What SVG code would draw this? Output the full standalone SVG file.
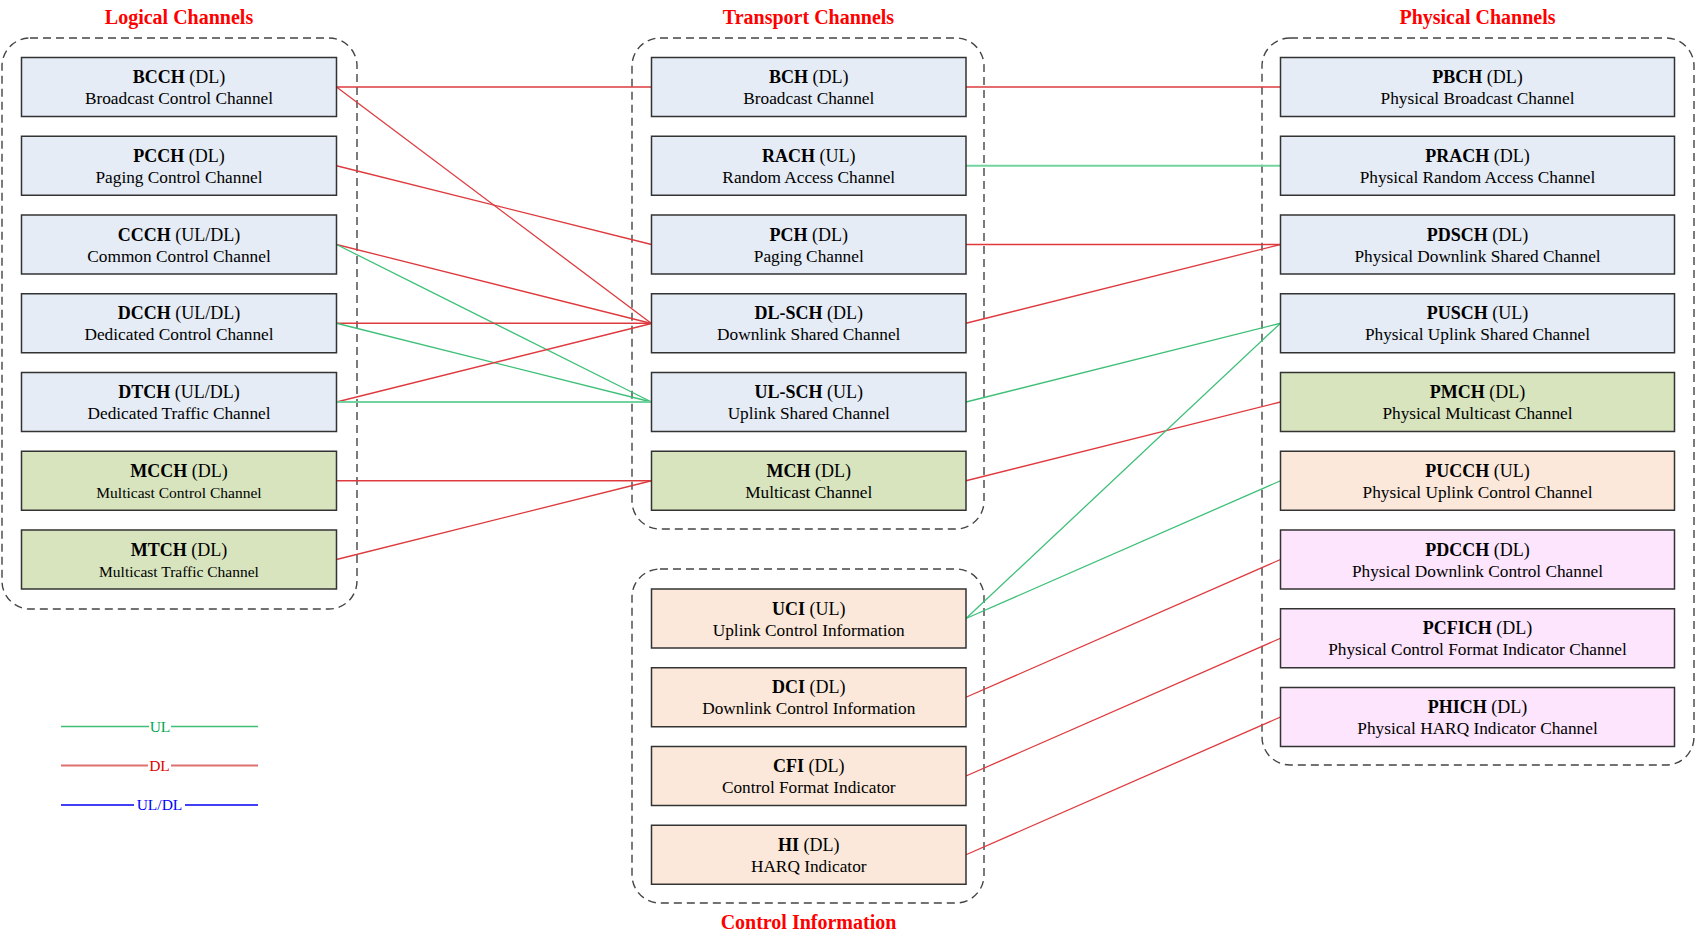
<svg xmlns="http://www.w3.org/2000/svg" width="1696" height="944" viewBox="0 0 1696 944">
<style>
text{font-family:"Liberation Serif","Times New Roman",serif;fill:#000;text-anchor:middle}
.hdr{font-size:20px;font-weight:bold;fill:#FF0000}
.t{font-size:18px}
.t tspan.b{font-weight:bold}
.s{font-size:17.3px}
.ss{font-size:15.5px}
.box{stroke:#333;stroke-width:1.5}
.blue{fill:#E5ECF6}
.green{fill:#D7E4BE}
.peach{fill:#FBE8DA}
.pink{fill:#FDE5FD}
.cont{fill:none;stroke:#444;stroke-width:1.4;stroke-dasharray:8 5}
.dl{stroke:#DE3A3E;stroke-width:1.3;fill:none}
.ul{stroke:#3DBF78;stroke-width:1.3;fill:none}
.ulw{stroke:#72D39E;stroke-width:2.2;fill:none}
.leg{font-size:15.5px}
</style>

<g id="containers">
<rect class="cont" x="2" y="38" width="355" height="571" rx="28"/>
<rect class="cont" x="632" y="38" width="352" height="491" rx="28"/>
<rect class="cont" x="632" y="569" width="352" height="334" rx="28"/>
<rect class="cont" x="1262" y="38" width="432" height="727" rx="28"/>
</g>

<g id="headers">
<text class="hdr" x="179" y="24">Logical Channels</text>
<text class="hdr" x="808.5" y="24">Transport Channels</text>
<text class="hdr" x="1477.5" y="24">Physical Channels</text>
<text class="hdr" x="808.5" y="929">Control Information</text>
</g>

<g id="connectors">
<line class="dl" x1="336.5" y1="87" x2="651.5" y2="87"/>
<line class="dl" x1="336.5" y1="87" x2="651.5" y2="323.5"/>
<line class="dl" x1="336.5" y1="165.75" x2="651.5" y2="244.5"/>
<line class="dl" x1="336.5" y1="244.5" x2="651.5" y2="323.5"/>
<line class="ul" x1="336.5" y1="244.5" x2="651.5" y2="402"/>
<line class="dl" x1="336.5" y1="323.25" x2="651.5" y2="323.25"/>
<line class="ul" x1="336.5" y1="323.25" x2="651.5" y2="402"/>
<line class="dl" x1="336.5" y1="402" x2="651.5" y2="323.5"/>
<line class="ulw" x1="336.5" y1="402" x2="651.5" y2="402"/>
<line class="dl" x1="336.5" y1="480.75" x2="651.5" y2="480.75"/>
<line class="dl" x1="336.5" y1="559.5" x2="651.5" y2="480.75"/>

<line class="dl" x1="966" y1="87" x2="1280.5" y2="87"/>
<line class="ulw" x1="966" y1="165.75" x2="1280.5" y2="165.75"/>
<line class="dl" x1="966" y1="244.5" x2="1280.5" y2="244.5"/>
<line class="dl" x1="966" y1="323.25" x2="1280.5" y2="244.5"/>
<line class="ul" x1="966" y1="402" x2="1280.5" y2="323.25"/>
<line class="dl" x1="966" y1="480.75" x2="1280.5" y2="402"/>
<line class="ul" x1="966" y1="618.5" x2="1280.5" y2="323.25"/>
<line class="ul" x1="966" y1="618.5" x2="1280.5" y2="480.75"/>
<line class="dl" x1="966" y1="697.25" x2="1280.5" y2="559.5"/>
<line class="dl" x1="966" y1="776" x2="1280.5" y2="638.25"/>
<line class="dl" x1="966" y1="854.75" x2="1280.5" y2="717"/>
</g>

<!-- Logical channels -->
<g id="BCCH"><rect class="box blue" x="21.5" y="57.5" width="315" height="59"/>
<text class="t" x="179" y="83"><tspan class="b">BCCH</tspan> (DL)</text>
<text class="s" x="179" y="104">Broadcast Control Channel</text></g>
<g id="PCCH"><rect class="box blue" x="21.5" y="136.25" width="315" height="59"/>
<text class="t" x="179" y="161.75"><tspan class="b">PCCH</tspan> (DL)</text>
<text class="s" x="179" y="182.75">Paging Control Channel</text></g>
<g id="CCCH"><rect class="box blue" x="21.5" y="215" width="315" height="59"/>
<text class="t" x="179" y="240.5"><tspan class="b">CCCH</tspan> (UL/DL)</text>
<text class="s" x="179" y="261.5">Common Control Channel</text></g>
<g id="DCCH"><rect class="box blue" x="21.5" y="293.75" width="315" height="59"/>
<text class="t" x="179" y="319.25"><tspan class="b">DCCH</tspan> (UL/DL)</text>
<text class="s" x="179" y="340.25">Dedicated Control Channel</text></g>
<g id="DTCH"><rect class="box blue" x="21.5" y="372.5" width="315" height="59"/>
<text class="t" x="179" y="398"><tspan class="b">DTCH</tspan> (UL/DL)</text>
<text class="s" x="179" y="419">Dedicated Traffic Channel</text></g>
<g id="MCCH"><rect class="box green" x="21.5" y="451.25" width="315" height="59"/>
<text class="t" x="179" y="476.75"><tspan class="b">MCCH</tspan> (DL)</text>
<text class="ss" x="179" y="497.75">Multicast Control Channel</text></g>
<g id="MTCH"><rect class="box green" x="21.5" y="530" width="315" height="59"/>
<text class="t" x="179" y="555.5"><tspan class="b">MTCH</tspan> (DL)</text>
<text class="ss" x="179" y="576.5">Multicast Traffic Channel</text></g>

<!-- Transport channels -->
<g id="BCH"><rect class="box blue" x="651.5" y="57.5" width="314.5" height="59"/>
<text class="t" x="808.75" y="83"><tspan class="b">BCH</tspan> (DL)</text>
<text class="s" x="808.75" y="104">Broadcast Channel</text></g>
<g id="RACH"><rect class="box blue" x="651.5" y="136.25" width="314.5" height="59"/>
<text class="t" x="808.75" y="161.75"><tspan class="b">RACH</tspan> (UL)</text>
<text class="s" x="808.75" y="182.75">Random Access Channel</text></g>
<g id="PCH"><rect class="box blue" x="651.5" y="215" width="314.5" height="59"/>
<text class="t" x="808.75" y="240.5"><tspan class="b">PCH</tspan> (DL)</text>
<text class="s" x="808.75" y="261.5">Paging Channel</text></g>
<g id="DL-SCH"><rect class="box blue" x="651.5" y="293.75" width="314.5" height="59"/>
<text class="t" x="808.75" y="319.25"><tspan class="b">DL-SCH</tspan> (DL)</text>
<text class="s" x="808.75" y="340.25">Downlink Shared Channel</text></g>
<g id="UL-SCH"><rect class="box blue" x="651.5" y="372.5" width="314.5" height="59"/>
<text class="t" x="808.75" y="398"><tspan class="b">UL-SCH</tspan> (UL)</text>
<text class="s" x="808.75" y="419">Uplink Shared Channel</text></g>
<g id="MCH"><rect class="box green" x="651.5" y="451.25" width="314.5" height="59"/>
<text class="t" x="808.75" y="476.75"><tspan class="b">MCH</tspan> (DL)</text>
<text class="s" x="808.75" y="497.75">Multicast Channel</text></g>

<!-- Control information -->
<g id="UCI"><rect class="box peach" x="651.5" y="589" width="314.5" height="59"/>
<text class="t" x="808.75" y="614.5"><tspan class="b">UCI</tspan> (UL)</text>
<text class="s" x="808.75" y="635.5">Uplink Control Information</text></g>
<g id="DCI"><rect class="box peach" x="651.5" y="667.75" width="314.5" height="59"/>
<text class="t" x="808.75" y="693.25"><tspan class="b">DCI</tspan> (DL)</text>
<text class="s" x="808.75" y="714.25">Downlink Control Information</text></g>
<g id="CFI"><rect class="box peach" x="651.5" y="746.5" width="314.5" height="59"/>
<text class="t" x="808.75" y="772"><tspan class="b">CFI</tspan> (DL)</text>
<text class="s" x="808.75" y="793">Control Format Indicator</text></g>
<g id="HI"><rect class="box peach" x="651.5" y="825.25" width="314.5" height="59"/>
<text class="t" x="808.75" y="850.75"><tspan class="b">HI</tspan> (DL)</text>
<text class="s" x="808.75" y="871.75">HARQ Indicator</text></g>

<!-- Physical channels -->
<g id="PBCH"><rect class="box blue" x="1280.5" y="57.5" width="394" height="59"/>
<text class="t" x="1477.5" y="83"><tspan class="b">PBCH</tspan> (DL)</text>
<text class="s" x="1477.5" y="104">Physical Broadcast Channel</text></g>
<g id="PRACH"><rect class="box blue" x="1280.5" y="136.25" width="394" height="59"/>
<text class="t" x="1477.5" y="161.75"><tspan class="b">PRACH</tspan> (DL)</text>
<text class="s" x="1477.5" y="182.75">Physical Random Access Channel</text></g>
<g id="PDSCH"><rect class="box blue" x="1280.5" y="215" width="394" height="59"/>
<text class="t" x="1477.5" y="240.5"><tspan class="b">PDSCH</tspan> (DL)</text>
<text class="s" x="1477.5" y="261.5">Physical Downlink Shared Channel</text></g>
<g id="PUSCH"><rect class="box blue" x="1280.5" y="293.75" width="394" height="59"/>
<text class="t" x="1477.5" y="319.25"><tspan class="b">PUSCH</tspan> (UL)</text>
<text class="s" x="1477.5" y="340.25">Physical Uplink Shared Channel</text></g>
<g id="PMCH"><rect class="box green" x="1280.5" y="372.5" width="394" height="59"/>
<text class="t" x="1477.5" y="398"><tspan class="b">PMCH</tspan> (DL)</text>
<text class="s" x="1477.5" y="419">Physical Multicast Channel</text></g>
<g id="PUCCH"><rect class="box peach" x="1280.5" y="451.25" width="394" height="59"/>
<text class="t" x="1477.5" y="476.75"><tspan class="b">PUCCH</tspan> (UL)</text>
<text class="s" x="1477.5" y="497.75">Physical Uplink Control Channel</text></g>
<g id="PDCCH"><rect class="box pink" x="1280.5" y="530" width="394" height="59"/>
<text class="t" x="1477.5" y="555.5"><tspan class="b">PDCCH</tspan> (DL)</text>
<text class="s" x="1477.5" y="576.5">Physical Downlink Control Channel</text></g>
<g id="PCFICH"><rect class="box pink" x="1280.5" y="608.75" width="394" height="59"/>
<text class="t" x="1477.5" y="634.25"><tspan class="b">PCFICH</tspan> (DL)</text>
<text class="s" x="1477.5" y="655.25">Physical Control Format Indicator Channel</text></g>
<g id="PHICH"><rect class="box pink" x="1280.5" y="687.5" width="394" height="59"/>
<text class="t" x="1477.5" y="713"><tspan class="b">PHICH</tspan> (DL)</text>
<text class="s" x="1477.5" y="734">Physical HARQ Indicator Channel</text></g>

<!-- Legend -->
<g id="legend">
<line x1="61" y1="726.5" x2="149" y2="726.5" stroke="#3DBF78" stroke-width="1.5"/>
<line x1="171" y1="726.5" x2="258" y2="726.5" stroke="#3DBF78" stroke-width="1.5"/>
<text class="leg" x="160" y="731.5" style="fill:#00A850">UL</text>
<line x1="61" y1="765.5" x2="148" y2="765.5" stroke="#E07070" stroke-width="2"/>
<line x1="171" y1="765.5" x2="258" y2="765.5" stroke="#E07070" stroke-width="2"/>
<text class="leg" x="159.5" y="770.5" style="fill:#E00000">DL</text>
<line x1="61" y1="805" x2="134" y2="805" stroke="#0000EE" stroke-width="1.5"/>
<line x1="185" y1="805" x2="258" y2="805" stroke="#0000EE" stroke-width="1.5"/>
<text class="leg" x="159.5" y="810" style="fill:#0000FF">UL/DL</text>
</g>
</svg>
